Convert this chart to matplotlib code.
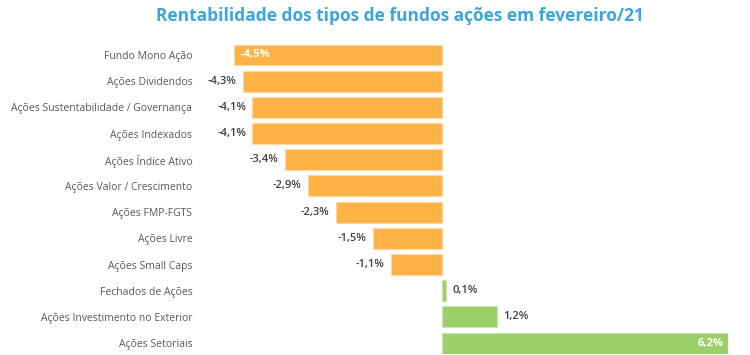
import numpy as np
import matplotlib.pyplot as plt

categories = ["Fundo Mono Ação", "Ações Dividendos", "Ações Sustentabilidade / Governança",
              "Ações Indexados", "Ações Índice Ativo", "Ações Valor / Crescimento",
              "Ações FMP-FGTS", "Ações Livre", "Ações Small Caps", "Fechados de Ações",
              "Ações Investimento no Exterior", "Ações Setoriais"]
values = [-4.5, -4.3, -4.1, -4.1, -3.4, -2.9, -2.3, -1.5, -1.1, 0.1, 1.2, 6.2]
inside = [0, 11]  # labels written inside the bar

plt.rcParams['font.family'] = ['Open Sans', 'DejaVu Sans']

fig = plt.figure(figsize=(7.5, 3.55), dpi=100)
ax = fig.add_axes([0.312, 0.004, 0.659, 0.878])

y = np.arange(len(values))
colors = ['#FFB347' if v < 0 else '#9CCF6A' for v in values]
edges = ['#FFD9A0' if v < 0 else '#C8E6AE' for v in values]
ax.barh(y, values, height=0.8, color=colors, edgecolor=edges, linewidth=0.8)

for i, v in enumerate(values):
    txt = f"{v:.1f}%".replace('.', ',')
    if i in inside:
        if v < 0:
            ax.annotate(txt, (v, i), xytext=(4.5, 0), textcoords='offset points',
                        ha='left', va='center', color='white', fontsize=8, fontweight='bold')
        else:
            ax.annotate(txt, (v, i), xytext=(-3.5, 0), textcoords='offset points',
                        ha='right', va='center', color='white', fontsize=8, fontweight='bold')
    elif v < 0:
        ax.annotate(txt, (v, i), xytext=(-4.5, 0), textcoords='offset points',
                    ha='right', va='center', color='#404040', fontsize=8, fontweight='semibold')
    else:
        ax.annotate(txt, (v, i), xytext=(4.5, 0), textcoords='offset points',
                    ha='left', va='center', color='#404040', fontsize=8, fontweight='semibold')

ax.set_xlim(-4.5, 6.2)
ax.set_ylim(11.4, -0.5)
ax.set_yticks(y)
ax.set_yticklabels(categories, fontsize=7.5, color='#595959')
ax.tick_params(axis='y', length=0, pad=30)
ax.set_xticks([])
for s in ax.spines.values():
    s.set_visible(False)

fig.text(0.533, 0.955, "Rentabilidade dos tipos de fundos ações em fevereiro/21",
         ha='center', va='center', fontsize=12.5, fontweight='bold', color='#3DA5DC')

fig.savefig('out.png', dpi=100)
